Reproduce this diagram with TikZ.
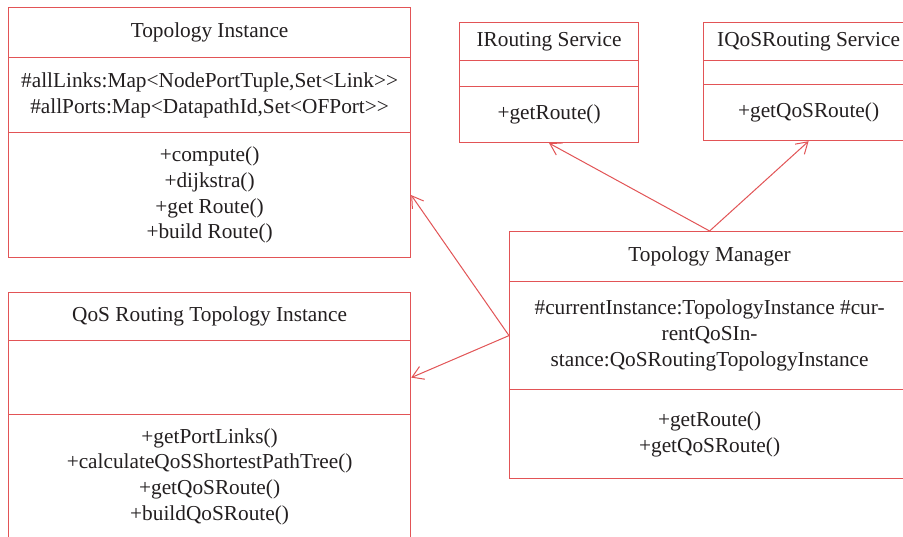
\documentclass[tikz,border=0pt]{standalone}
\usepackage{fontspec}
\setmainfont{Liberation Serif}
\usetikzlibrary{arrows.meta}
\definecolor{umlred}{RGB}{226,84,86}
\definecolor{umltext}{RGB}{35,31,32}
\begin{document}
\begin{tikzpicture}[x=1pt,y=-1pt,
  compart/.style={draw=umlred, line width=1.2pt, anchor=north west, inner sep=0pt,
    align=center, text=umltext, font=\fontsize{21.3}{25.7}\selectfont},
  assoc/.style={draw=umlred, line width=1pt, -{Straight Barb[angle=64:13pt,line width=1pt]}}]
\useasboundingbox (0,0) rectangle (903,536);
\clip (0,0) rectangle (903,536);
\fill[white] (0,0) rectangle (903,536);

% Topology Instance
\node[compart, minimum width=402pt, minimum height=50pt] (ti-name) at (8,7) {Topology Instance};
\node[compart, minimum width=402pt, minimum height=75pt] (ti-attr) at (8,57)
  {\#allLinks:Map<NodePortTuple,Set<Link>{}>\\\#allPorts:Map<DatapathId,Set<OFPort>{}>};
\node[compart, minimum width=402pt, minimum height=125pt] (ti-ops) at (8,132)
  {+compute()\\+dijkstra()\\+get Route()\\+build Route()};

% QoS Routing Topology Instance
\node[compart, minimum width=402pt, minimum height=48pt] (qi-name) at (8,292) {QoS Routing Topology Instance};
\node[compart, minimum width=402pt, minimum height=74pt] (qi-attr) at (8,340) {};
\node[compart, minimum width=402pt, minimum height=124pt] (qi-ops) at (8,414)
  {+getPortLinks()\\+calculateQoSShortestPathTree()\\+getQoSRoute()\\+buildQoSRoute()};

% IRouting Service
\node[compart, minimum width=179pt, minimum height=38pt] (ir-name) at (459,22) {IRouting Service};
\node[compart, minimum width=179pt, minimum height=26pt] (ir-attr) at (459,60) {};
\node[compart, minimum width=179pt, minimum height=56pt] (ir-ops) at (459,86) {+getRoute()};

% IQoSRouting Service
\node[compart, minimum width=210pt, minimum height=38pt] (iq-name) at (703,22) {IQoSRouting Service};
\node[compart, minimum width=210pt, minimum height=24pt] (iq-attr) at (703,60) {};
\node[compart, minimum width=210pt, minimum height=56pt] (iq-ops) at (703,84) {+getQoSRoute()};

% Topology Manager
\node[compart, minimum width=400pt, minimum height=50pt] (tm-name) at (509,231) {Topology Manager};
\node[compart, minimum width=400pt, minimum height=108pt] (tm-attr) at (509,281)
  {\#currentInstance:TopologyInstance \#cur-\\rentQoSIn-\\stance:QoSRoutingTopologyInstance};
\node[compart, minimum width=400pt, minimum height=89pt] (tm-ops) at (509,389)
  {+getRoute()\\+getQoSRoute()};

% associations
\draw[assoc] (tm-name.north) -- (ir-ops.south);
\draw[assoc] (tm-name.north) -- (iq-ops.south);
\draw[assoc] (tm-attr.west) -- (ti-ops.east);
\draw[assoc] (tm-attr.west) -- (qi-attr.east);
\end{tikzpicture}
\end{document}
